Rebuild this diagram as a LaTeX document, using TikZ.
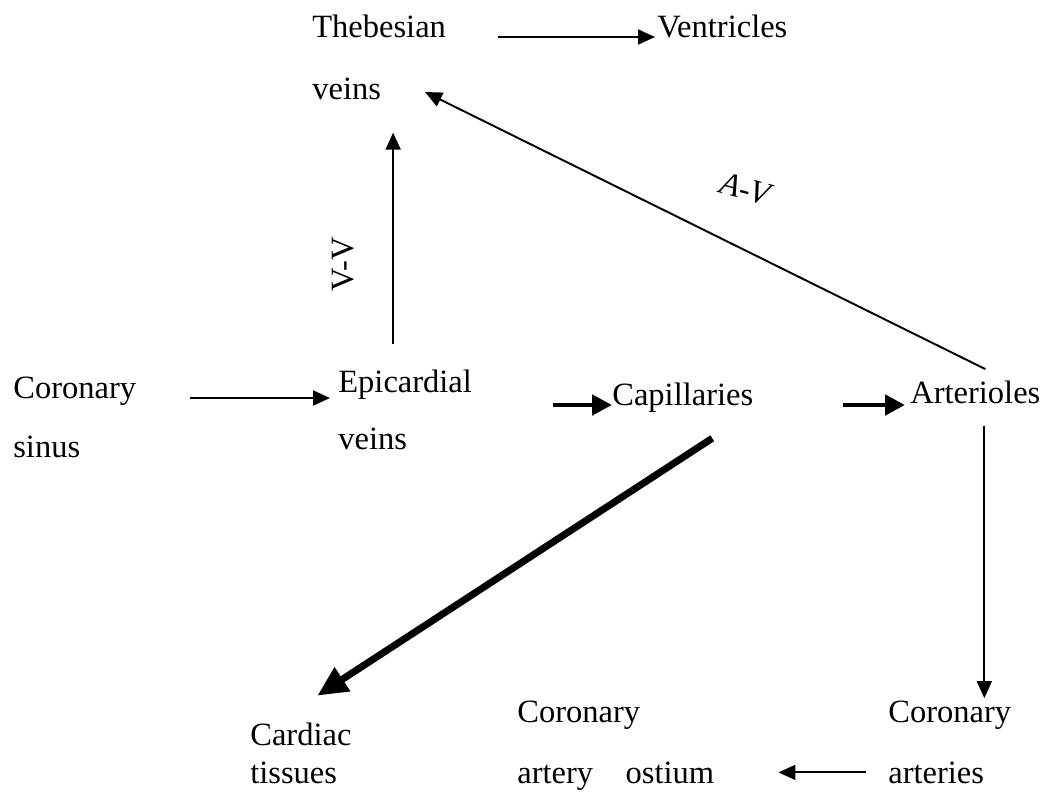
\documentclass[tikz,border=0pt]{standalone}
\usepackage{fontspec}
\setmainfont{Liberation Serif}
\usetikzlibrary{positioning, arrows.meta, calc}

\begin{document}
\begin{tikzpicture}[x=0.02cm, y=-0.02cm,
    every node/.style={font=\fontsize{18.5}{22}\selectfont, inner sep=0pt, anchor=base west},
    arr/.style={-{Triangle[length=3.4mm,width=3mm]}, line width=1.1pt},
    thickarr/.style={-{Triangle[length=4mm,width=4mm]}, line width=2.8pt},
    bigarr/.style={-{Triangle[length=6mm,width=5.4mm]}, line width=4pt}]
  \useasboundingbox (0,0) rectangle (1045,795);

  \node (theb) at (312,37) {Thebesian};
  \node[below=1.26cm of theb.base west, anchor=base west] (thebv) {veins};
  \node (vent) at (657,37) {Ventricles};

  \node (cs) at (13,398) {Coronary};
  \node[below=1.2cm of cs.base west, anchor=base west] (csv) {sinus};
  \node (epi) at (338,392) {Epicardial};
  \node[below=1.16cm of epi.base west, anchor=base west] (epiv) {veins};
  \node (cap) at (612,405) {Capillaries};
  \node (art) at (910,403) {Arterioles};

  \node (card) at (250,745) {Cardiac};
  \node[below=0.76cm of card.base west, anchor=base west] (cardt) {tissues};
  \node (ost) at (517,722) {Coronary};
  \node[below=1.22cm of ost.base west, anchor=base west] (ost2) {artery\quad ostium};
  \node (ca) at (888,722) {Coronary};
  \node[below=1.22cm of ca.base west, anchor=base west] (ca2) {arteries};

  \coordinate (vvbot) at ([xshift=-2.4mm]epi.north);
  \coordinate (atop) at ([xshift=1.8mm]art.south);
  \coordinate (avtip) at (425,92);

  \draw[arr, shorten <=10.4mm, shorten >=0.4mm] (theb.base east) -- (theb.base east -| vent.west);
  \draw[arr, shorten <=5mm, shorten >=6.4mm] (vvbot) -- (vvbot |- thebv.south)
    node[pos=0.39, rotate=90, anchor=south, yshift=7.6mm] (vv) {V-V};
  \draw[arr] ([xshift=2mm,yshift=2.2mm]art.north) -- (avtip)
    node[pos=0.434, above=9.6mm, rotate=-15, font=\fontsize{18.5}{22}\selectfont\itshape] (av) {A-V};
  \draw[arr, shorten <=10.8mm, shorten >=1.6mm] (cs.base east) -- (cs.base east -| epi.west);
  \draw[thickarr, shorten <=16.2mm] (epi.east |- cap.base west) -- (cap.base west);
  \draw[thickarr, shorten <=17.8mm, shorten >=1mm] (cap.base east) -- (cap.base east -| art.west);
  \draw[bigarr] ([xshift=5.9mm,yshift=-5.2mm]cap.south) -- ([xshift=3.3mm,yshift=5.3mm]card.north);
  \draw[arr, shorten <=4.4mm, shorten >=0.4mm] (atop) -- (atop |- ca.north);
  \draw[arr, shorten <=4.4mm, shorten >=12.8mm] (ca2.west) -- (ca2.west -| ost2.east);
\end{tikzpicture}
\end{document}
